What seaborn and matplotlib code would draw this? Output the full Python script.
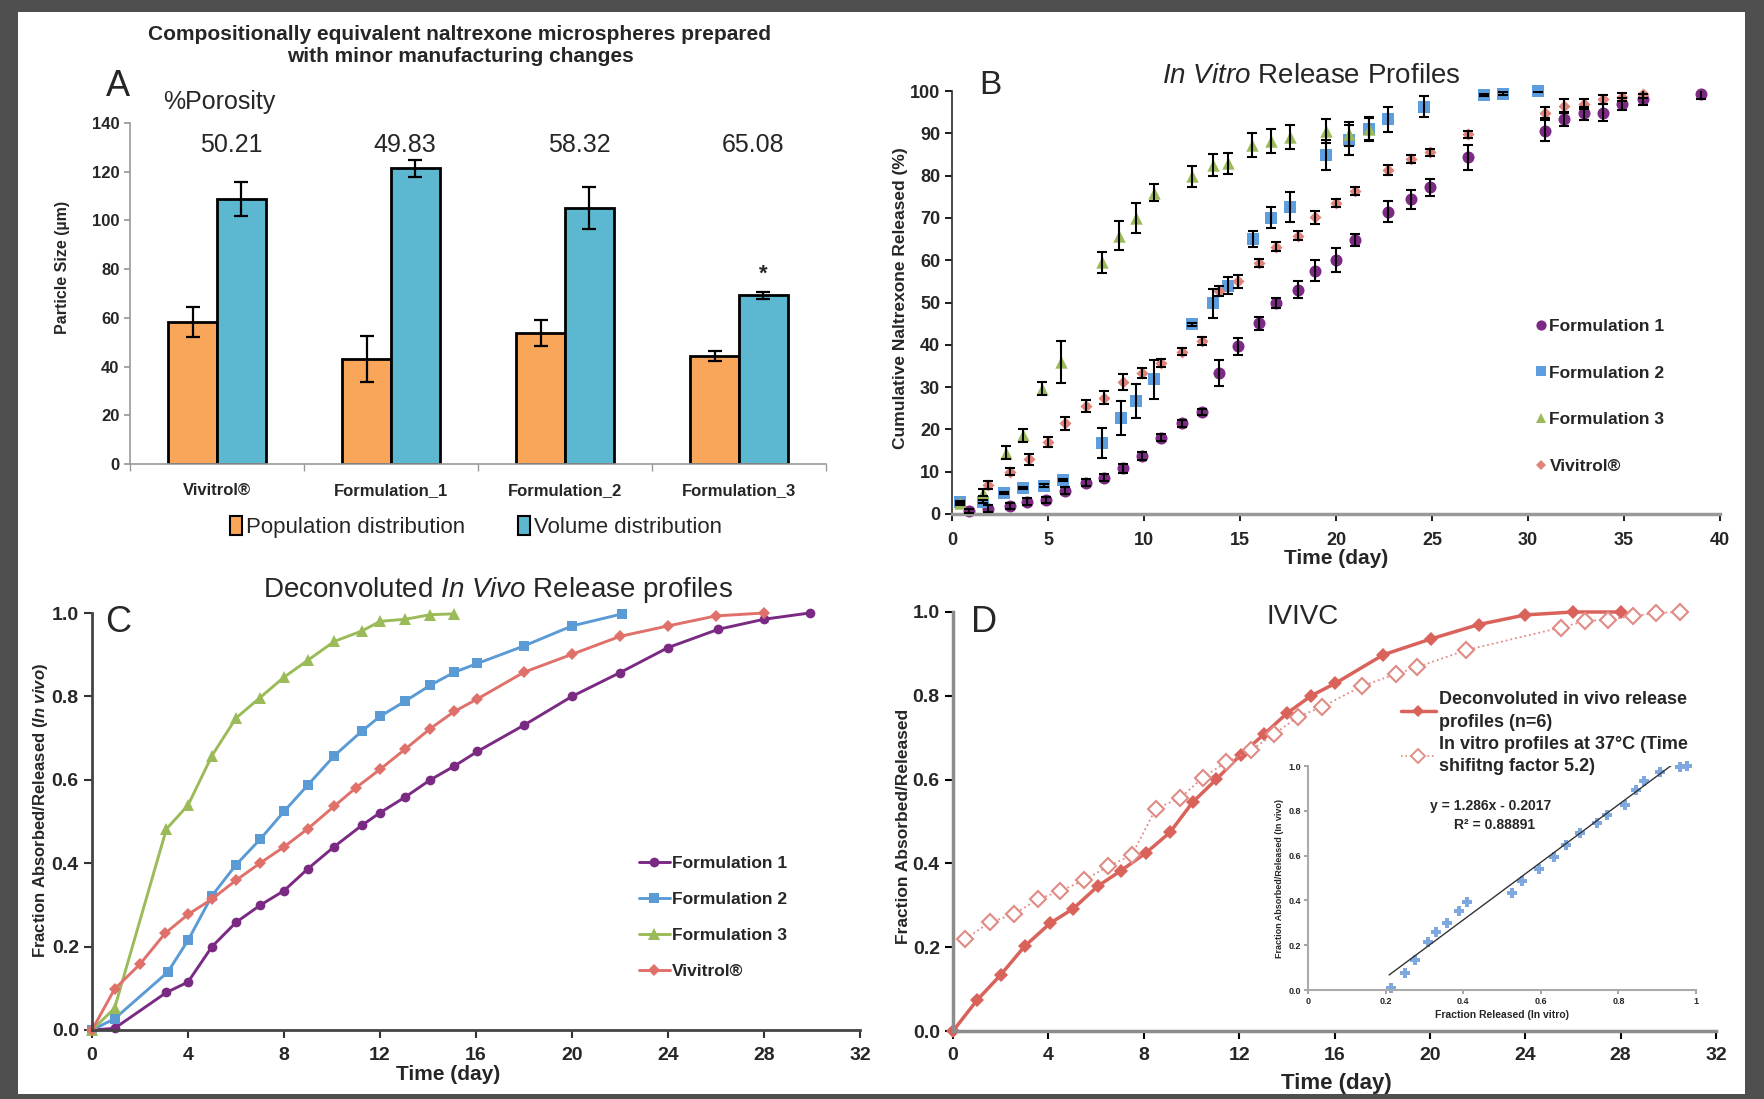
import numpy as np
import pandas as pd
import seaborn as sns
import matplotlib.pyplot as plt
from matplotlib.patches import Rectangle, Patch
from matplotlib.lines import Line2D

# ---- panel A : particle size
groups = ['Vivitrol®', 'Formulation_1', 'Formulation_2', 'Formulation_3']
porosity = ['50.21', '49.83', '58.32', '65.08']
pop_size = [58.3, 43.2, 53.8, 44.3]
pop_err = [6.3, 9.5, 5.3, 1.9]
vol_size = [108.8, 121.4, 105.1, 69.2]
vol_err = [7.1, 3.5, 8.5, 1.3]

# ---- panel B : in vitro release (%)
b_f1_day = [0.9, 1.9, 3.0, 3.9, 4.9, 5.9, 7.0, 7.9, 8.9, 9.9, 10.9, 12.0, 13.0, 13.9, 14.9, 16.0,
            16.9, 18.0, 18.9, 20.0, 21.0, 22.7, 23.9, 24.9, 26.9, 30.9, 31.9, 32.9, 33.9, 34.9, 36.0, 39.0]
b_f1_val = [0.7, 1.3, 1.9, 2.9, 3.3, 5.5, 7.4, 8.6, 10.8, 13.7, 18.0, 21.4, 24.1, 33.3, 39.6, 45.1,
            49.8, 53.0, 57.5, 60.1, 64.8, 71.5, 74.4, 77.2, 84.3, 90.6, 93.3, 94.7, 94.9, 96.9, 98.0, 99.2]
b_f1_err = [0.5, 0.8, 0.8, 0.8, 0.8, 0.8, 0.8, 0.8, 1.0, 1.0, 0.8, 0.8, 0.8, 3.0, 2.0, 1.5,
            1.2, 2.0, 2.5, 2.9, 1.5, 2.5, 2.3, 2.0, 3.0, 2.5, 1.5, 1.5, 2.0, 1.5, 1.2, 1.0]
b_f2_day = [0.4, 1.6, 2.7, 3.7, 4.8, 5.8, 7.8, 8.8, 9.6, 10.5, 12.5, 13.6, 14.4, 15.7, 16.6, 17.6,
            19.5, 20.7, 21.7, 22.7, 24.6, 27.7, 28.7, 30.5]
b_f2_val = [2.8, 2.9, 5.0, 6.1, 6.7, 8.0, 16.8, 22.6, 26.7, 31.8, 44.8, 49.8, 54.0, 65.0, 70.0, 72.6,
            84.9, 88.4, 91.0, 93.3, 96.3, 99.1, 99.4, 100.0]
b_f2_err = [0.3, 0.3, 0.3, 0.3, 0.3, 0.3, 3.5, 4.0, 4.0, 4.5, 0.3, 3.5, 2.0, 1.8, 2.5, 3.5,
            3.5, 3.5, 2.5, 3.0, 2.5, 0.3, 0.3, 0.3]
b_f3_day = [0.4, 1.6, 2.8, 3.7, 4.7, 5.7, 7.8, 8.7, 9.6, 10.5, 12.5, 13.6, 14.4, 15.6, 16.6, 17.6,
            19.5, 20.7, 21.7]
b_f3_val = [2.5, 5.0, 14.5, 18.6, 29.6, 35.9, 59.5, 65.8, 70.0, 75.9, 79.8, 82.5, 82.9, 87.2, 88.1, 89.2,
            90.6, 89.9, 91.0]
b_f3_err = [0.3, 0.8, 1.5, 1.5, 1.5, 5.0, 2.5, 3.5, 3.5, 2.0, 2.5, 2.5, 2.5, 2.8, 2.8, 2.8,
            2.8, 2.8, 2.8]
b_viv_day = [1.9, 3.0, 4.0, 5.0, 5.9, 7.0, 7.9, 8.9, 9.9, 10.9, 12.0, 13.0, 13.9, 14.9, 16.0, 16.9,
             18.0, 18.9, 20.0, 21.0, 22.7, 23.9, 24.9, 26.9, 30.9, 31.9, 32.9, 33.9, 34.9, 36.0]
b_viv_val = [6.8, 10.0, 12.9, 17.1, 21.4, 25.5, 27.5, 31.2, 33.3, 35.7, 38.4, 40.9, 52.7, 55.0, 59.3, 63.2,
             65.8, 70.1, 73.5, 76.3, 81.4, 83.9, 85.5, 89.8, 94.9, 96.5, 97.0, 98.0, 98.6, 99.4]
b_viv_err = [1.0, 0.8, 1.2, 1.2, 1.5, 1.5, 1.5, 1.8, 1.2, 1.0, 0.8, 1.0, 1.2, 1.5, 1.0, 1.0,
             1.0, 1.5, 1.0, 1.0, 1.2, 1.0, 0.8, 0.8, 1.2, 1.5, 1.2, 1.0, 1.0, 1.0]

# ---- panel C : deconvoluted in vivo
c_f1_day = [0, 0.94, 3.1, 4.0, 5.0, 6.0, 7.0, 8.0, 9.0, 10.1, 11.25, 12.0, 13.06, 14.1, 15.1, 16.06,
            18.0, 20.0, 22.0, 24.0, 26.1, 28.0, 29.9]
c_f1_val = [0, 0.004, 0.09, 0.115, 0.20, 0.258, 0.299, 0.334, 0.387, 0.44, 0.491, 0.521, 0.559, 0.60,
            0.633, 0.668, 0.731, 0.80, 0.857, 0.917, 0.961, 0.985, 1.0]
c_f2_day = [0, 0.94, 3.16, 4.0, 5.0, 6.0, 7.0, 8.0, 9.0, 10.1, 11.25, 12.0, 13.06, 14.1, 15.1, 16.06,
            18.0, 20.0, 22.1]
c_f2_val = [0, 0.027, 0.139, 0.215, 0.322, 0.396, 0.457, 0.524, 0.588, 0.658, 0.717, 0.752, 0.789, 0.827,
            0.858, 0.879, 0.921, 0.969, 0.998]
c_f3_day = [0, 0.94, 3.1, 4.0, 5.0, 6.0, 7.0, 8.0, 9.0, 10.1, 11.25, 12.0, 13.06, 14.1, 15.1]
c_f3_val = [0, 0.052, 0.482, 0.539, 0.658, 0.748, 0.797, 0.846, 0.887, 0.932, 0.957, 0.980, 0.985, 0.996, 0.998]
c_viv_day = [0, 0.94, 2.0, 3.05, 4.0, 5.0, 6.0, 7.0, 8.0, 9.0, 10.1, 11.0, 12.0, 13.06, 14.1, 15.1,
             16.06, 18.0, 20.0, 22.0, 24.0, 26.0, 28.0]
c_viv_val = [0, 0.098, 0.158, 0.232, 0.277, 0.314, 0.359, 0.40, 0.439, 0.483, 0.537, 0.581, 0.625, 0.674,
             0.723, 0.764, 0.794, 0.858, 0.901, 0.944, 0.969, 0.993, 1.0]

# ---- panel D : IVIVC
d_vivo_day = [0, 1.0, 2.0, 3.0, 4.07, 5.04, 6.08, 7.05, 8.09, 9.1, 10.05, 11.05, 12.06, 13.06, 14.0,
              15.02, 16.04, 18.05, 20.06, 22.04, 24.0, 26.0, 28.0]
d_vivo_val = [0, 0.073, 0.134, 0.202, 0.257, 0.292, 0.346, 0.383, 0.425, 0.474, 0.546, 0.601, 0.659,
              0.709, 0.758, 0.80, 0.83, 0.898, 0.936, 0.97, 0.993, 1.0, 1.0]
d_vitro_day = [0.52, 1.54, 2.55, 3.55, 4.49, 5.51, 6.5, 7.5, 8.51, 9.53, 10.48, 11.47, 12.49, 13.48,
               14.47, 15.49, 17.15, 18.57, 19.44, 21.52, 25.5, 26.49, 27.48, 28.5, 29.5, 30.5]
d_vitro_val = [0.22, 0.259, 0.279, 0.314, 0.334, 0.36, 0.393, 0.42, 0.531, 0.556, 0.605, 0.642, 0.67,
               0.709, 0.75, 0.774, 0.823, 0.852, 0.868, 0.909, 0.963, 0.978, 0.982, 0.99, 0.998, 1.0]
ins_x = [0.214, 0.251, 0.276, 0.308, 0.331, 0.359, 0.388, 0.411, 0.526, 0.552, 0.596, 0.635, 0.664,
         0.702, 0.744, 0.77, 0.817, 0.846, 0.865, 0.906, 0.959, 0.977]
ins_y = [0.008, 0.076, 0.134, 0.214, 0.26, 0.298, 0.351, 0.394, 0.435, 0.486, 0.542, 0.592, 0.649,
         0.699, 0.745, 0.782, 0.824, 0.893, 0.931, 0.974, 0.995, 1.0]
slope, intercept, r2 = 1.286, -0.2017, 0.88891

names = ['Formulation 1', 'Formulation 2', 'Formulation 3', 'Vivitrol®']

sns.set_theme(style='white')
FONT = ['Liberation Sans', 'DejaVu Sans']
plt.rcParams['font.family'] = FONT
plt.rcParams.update({'mathtext.fontset': 'custom',
                     'mathtext.rm': 'Liberation Sans',
                     'mathtext.it': 'Liberation Sans:italic',
                     'mathtext.sf': 'Liberation Sans:bold:italic'})

W, H = 1764, 1099
fig = plt.figure(figsize=(W / 100, H / 100), dpi=100)
fig.patch.set_facecolor('#4f4f4f')
fig.add_artist(Rectangle((18 / W, 1 - 1094 / H), (1745 - 18) / W, (1094 - 12) / H, transform=fig.transFigure,
                         facecolor='white', edgecolor='none', zorder=-1))


def box(l, t, r, b):
    return [l / W, 1 - b / H, (r - l) / W, (b - t) / H]


def ftext(x, y, s, **kw):
    fig.text(x / W, 1 - y / H, s, ha='center', va='center', **kw)


def bold_ticks(ax, size):
    ax.tick_params(labelsize=size)
    for lab in ax.get_xticklabels() + ax.get_yticklabels():
        lab.set_fontweight('bold')


axA = fig.add_axes(box(130, 123, 826, 464))
axB = fig.add_axes(box(952, 91, 1720, 514))
axC = fig.add_axes(box(92, 613, 860, 1030))
axD = fig.add_axes(box(953, 612, 1716, 1031))
axI = fig.add_axes(box(1308, 766, 1696, 990))

# ================= A
dfA = pd.DataFrame({'group': groups * 2, 'size': pop_size + vol_size,
                    'kind': ['Population distribution'] * 4 + ['Volume distribution'] * 4})
colsA = ['#F9A65A', '#5BB8D0']
sns.barplot(data=dfA, x='group', y='size', hue='kind', palette=colsA, width=0.56, errorbar=None,
            edgecolor='black', linewidth=2, saturation=1, ax=axA)
xi = np.arange(len(groups))
axA.errorbar(xi - 0.14, pop_size, yerr=pop_err, fmt='none', ecolor='black', elinewidth=1.6, capsize=5, capthick=1.6)
axA.errorbar(xi + 0.14, vol_size, yerr=vol_err, fmt='none', ecolor='black', elinewidth=1.6, capsize=5, capthick=1.6)
axA.set_xlim(-0.5, 3.5)
axA.set_ylim(0, 140)
axA.set_yticks(range(0, 141, 20))
axA.set_xticks(np.arange(-0.5, 3.6, 1), minor=True)
axA.tick_params(axis='x', which='major', length=0, pad=14)
axA.tick_params(axis='x', which='minor', length=5, color='#999999', direction='out', bottom=True)
axA.tick_params(axis='y', length=4, color='#999999', left=True)
bold_ticks(axA, 12)
axA.set_xlabel('')
axA.set_ylabel('Particle Size (µm)', fontsize=11.5, fontweight='bold')
axA.yaxis.set_label_coords(-0.086, 0.575)
for s in ['top', 'right']:
    axA.spines[s].set_visible(False)
for s in ['left', 'bottom']:
    axA.spines[s].set_color('#999999')
    axA.spines[s].set_linewidth(1.2)
for i, p in enumerate(porosity):
    axA.text(i + 0.08, 131, p, ha='center', va='center', fontsize=18)
axA.text(3 + 0.14, 78, '*', ha='center', va='center', fontsize=16, fontweight='bold')
axA.get_legend().remove()
axA.legend(handles=[Patch(facecolor=c, edgecolor='black', linewidth=1.5) for c in colsA],
           labels=['Population distribution', 'Volume distribution'], loc='center',
           bbox_to_anchor=(476 / W, 1 - 527 / H), bbox_transform=fig.transFigure, ncol=2, frameon=False,
           fontsize=16, handlelength=0.55, handleheight=0.9, handletextpad=0.15, columnspacing=2.4)
ftext(460, 34, 'Compositionally equivalent naltrexone microspheres prepared', fontsize=15, fontweight='bold')
ftext(460, 57, 'with minor manufacturing changes', fontsize=15, fontweight='bold')
ftext(118, 86, 'A', fontsize=26)
ftext(219, 102, '%Porosity', fontsize=18)

# ================= B
colors = {'Formulation 1': '#7D2A84', 'Formulation 2': '#5E9EDE', 'Formulation 3': '#9BBB59',
          'Vivitrol®': '#E0837A'}
marks = {'Formulation 1': 'o', 'Formulation 2': 's', 'Formulation 3': '^', 'Vivitrol®': 'D'}
sizes = {'Formulation 1': 75, 'Formulation 2': 65, 'Formulation 3': 80, 'Vivitrol®': 38}
bsets = [(b_f1_day, b_f1_val, b_f1_err), (b_f2_day, b_f2_val, b_f2_err),
         (b_f3_day, b_f3_val, b_f3_err), (b_viv_day, b_viv_val, b_viv_err)]
for name, (d, v, e) in zip(names, bsets):
    axB.errorbar(d, v, yerr=e, fmt='none', ecolor='black', elinewidth=1.5, capsize=3.5, capthick=1.5, zorder=3)
    sns.scatterplot(x=d, y=v, color=colors[name], marker=marks[name], s=sizes[name], linewidth=0,
                    ax=axB, zorder=2, clip_on=False)
axB.set_xlim(0, 40)
axB.set_ylim(0, 100)
axB.set_xticks(range(0, 41, 5))
axB.set_yticks(range(0, 101, 10))
axB.tick_params(length=5, color='black', left=True, bottom=True, direction='out')
axB.tick_params(axis='x', pad=8)
bold_ticks(axB, 13)
for s in ['top', 'right']:
    axB.spines[s].set_visible(False)
axB.spines['left'].set_color('#333333')
axB.spines['bottom'].set_color('#999999')
axB.spines['bottom'].set_linewidth(2.5)
axB.set_xlabel('Time (day)', fontsize=15, fontweight='bold')
axB.xaxis.set_label_coords(0.5, -0.083)
axB.set_ylabel('Cumulative Naltrexone Released (%)', fontsize=12.5, fontweight='bold')
axB.yaxis.set_label_coords(-0.057, 0.51)
hB = [Line2D([], [], linestyle='none', marker=marks[n], color=colors[n],
             markersize=np.sqrt(sizes[n]) * 0.85, markeredgewidth=0) for n in names]
axB.legend(hB, names, loc='upper left', bbox_to_anchor=(1519 / W, 1 - 303 / H),
           bbox_transform=fig.transFigure, frameon=False, handlelength=0.7, handletextpad=0.15,
           labelspacing=1.82, prop={'weight': 'bold', 'size': 12.5})
ftext(1311, 76, r'$\mathit{In\ Vitro}$ Release Profiles', fontsize=20)
ftext(990, 86, 'B', fontsize=24)

# ================= C
cols_c = {'Formulation 1': '#7A2A82', 'Formulation 2': '#5B9BD5', 'Formulation 3': '#9BBB59',
          'Vivitrol®': '#E0706A'}
csets = [(c_f1_day, c_f1_val), (c_f2_day, c_f2_val), (c_f3_day, c_f3_val), (c_viv_day, c_viv_val)]
msize_c = {'Formulation 1': 7, 'Formulation 2': 7, 'Formulation 3': 8, 'Vivitrol®': 6}
for name, (d, v) in zip(names, csets):
    sns.lineplot(x=d, y=v, color=cols_c[name], marker=marks[name], markersize=msize_c[name],
                 markeredgewidth=0, linewidth=2.1, sort=False, estimator=None, ax=axC, clip_on=False)
axC.set_xlim(0, 32)
axC.set_ylim(0, 1)
axC.set_xticks(range(0, 33, 4))
axC.set_yticks(np.arange(0, 1.01, 0.2))
axC.set_yticklabels(['%.1f' % t for t in np.arange(0, 1.01, 0.2)])
axC.tick_params(length=6, width=1.5, color='#333333', left=True, bottom=True, direction='out')
axC.tick_params(axis='x', pad=6)
bold_ticks(axC, 14)
for s in ['top', 'right']:
    axC.spines[s].set_visible(False)
for s in ['left', 'bottom']:
    axC.spines[s].set_color('#444444')
    axC.spines[s].set_linewidth(2)
axC.set_xlabel('Time (day)', fontsize=15, fontweight='bold')
axC.xaxis.set_label_coords(0.4635, -0.085)
axC.set_ylabel(r'Fraction Absorbed/Released ($\mathsf{In\ vivo}$)', fontsize=12, fontweight='bold')
axC.yaxis.set_label_coords(-0.055, 0.527)
hC = [Line2D([], [], color=cols_c[n], marker=marks[n], markersize=msize_c[n], markeredgewidth=0,
             linewidth=2.1) for n in names]
axC.legend(hC, names, loc='upper left', bbox_to_anchor=(623 / W, 1 - 840 / H), bbox_transform=fig.transFigure,
           frameon=False, handlelength=1.8, handletextpad=0.1, labelspacing=1.2,
           prop={'weight': 'bold', 'size': 12.5})
ftext(498, 590, r'Deconvoluted $\mathit{In\ Vivo}$ Release profiles', fontsize=20)
ftext(118, 622, 'C', fontsize=26)

# ================= D
salmon = '#D9625B'
sns.lineplot(x=d_vivo_day, y=d_vivo_val, color=salmon, marker='D', markersize=7, markeredgewidth=0,
             linewidth=2.5, sort=False, estimator=None, ax=axD, clip_on=False)
sns.lineplot(x=d_vitro_day, y=d_vitro_val, color='#E08A84', marker='D', markersize=8,
             markerfacecolor='white', markeredgecolor='#E08A84', markeredgewidth=1.5,
             linewidth=1.3, linestyle=':', sort=False, estimator=None, ax=axD, clip_on=False)
axD.set_xlim(0, 32)
axD.set_ylim(0, 1)
axD.set_xticks(range(0, 33, 4))
axD.set_yticks(np.arange(0, 1.01, 0.2))
axD.set_yticklabels(['%.1f' % t for t in np.arange(0, 1.01, 0.2)])
axD.tick_params(length=6, width=1.5, color='black', left=True, bottom=True, direction='out')
axD.tick_params(axis='x', pad=5.5)
bold_ticks(axD, 14)
for s in ['top', 'right']:
    axD.spines[s].set_visible(False)
for s in ['left', 'bottom']:
    axD.spines[s].set_color('#8c8c8c')
    axD.spines[s].set_linewidth(2.5)
axD.set_xlabel('Time (day)', fontsize=16, fontweight='bold')
axD.xaxis.set_label_coords(0.503, -0.1)
axD.set_ylabel('Fraction Absorbed/Released', fontsize=12.5, fontweight='bold')
axD.yaxis.set_label_coords(-0.055, 0.488)
hD = [Line2D([], [], color=salmon, marker='D', markersize=6, markeredgewidth=0, linewidth=2.5),
      Line2D([], [], color='#E08A84', marker='D', markersize=7, markerfacecolor='white',
             markeredgewidth=1.3, linewidth=1.2, linestyle=':')]
legD = axD.legend(hD, ['Deconvoluted in vivo release\nprofiles (n=6)',
                       'In vitro profiles at 37°C (Time\nshifitng factor 5.2)'],
                  loc='upper left', bbox_to_anchor=(1385 / W, 1 - 675 / H), bbox_transform=fig.transFigure,
                  frameon=False, handlelength=1.9, handletextpad=0.2, labelspacing=0.25,
                  prop={'weight': 'bold', 'size': 13})
for t in legD.get_texts():
    t.set_linespacing(1.45)
ftext(1303, 617, 'IVIVC', fontsize=20)
ftext(984, 622, 'D', fontsize=26)

# inset : IVIVC regression
axI.set_facecolor('none')
sns.scatterplot(x=ins_x, y=ins_y, marker='P', color='#7EA8DE', s=45, linewidth=0, ax=axI, clip_on=False)
fit_x = np.array([min(ins_x) - 0.005, max(ins_x)])
axI.plot(fit_x, slope * fit_x + intercept, color='#333333', linewidth=1.0)
axI.set_xlim(0, 1)
axI.set_ylim(0, 1)
axI.set_xticks(np.arange(0, 1.01, 0.2))
axI.set_xticklabels(['0', '0.2', '0.4', '0.6', '0.8', '1'])
axI.set_yticks(np.arange(0, 1.01, 0.2))
axI.set_yticklabels(['%.1f' % t for t in np.arange(0, 1.01, 0.2)])
axI.tick_params(length=3, color='#999999', left=True, bottom=True, direction='out', pad=2)
bold_ticks(axI, 6.5)
for s in ['top', 'right']:
    axI.spines[s].set_visible(False)
for s in ['left', 'bottom']:
    axI.spines[s].set_color('#aaaaaa')
    axI.spines[s].set_linewidth(1.5)
axI.set_xlabel('Fraction Released (In vitro)', fontsize=7.5, fontweight='bold', labelpad=3)
axI.set_ylabel('Fraction Absorbed/Released (In vivo)', fontsize=6.5, fontweight='bold', labelpad=3)
axI.text(0.47, 0.82, 'y = %.3fx - %.4f' % (slope, -intercept), transform=axI.transAxes, ha='center',
         va='center', fontsize=10, fontweight='bold')
axI.text(0.48, 0.737, 'R² = %.5f' % r2, transform=axI.transAxes, ha='center', va='center',
         fontsize=10, fontweight='bold')

fig.savefig('out.png', dpi=100, facecolor=fig.get_facecolor())
